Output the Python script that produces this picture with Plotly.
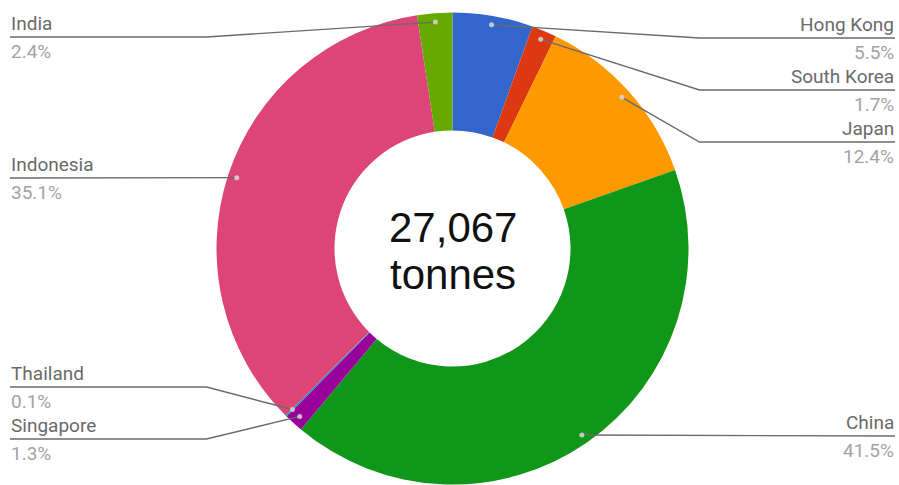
import math
import plotly.graph_objects as go

# Share of total (%), clockwise from 12 o'clock
countries = ["Hong Kong", "South Korea", "Japan", "China",
             "Singapore", "Thailand", "Indonesia", "India"]
shares = [5.5, 1.7, 12.4, 41.5, 1.3, 0.1, 35.1, 2.4]
colors = ["#3366cc", "#dc3912", "#ff9900", "#109618",
          "#990099", "#0099c6", "#dd4477", "#66aa00"]
total_label = "27,067"
unit_label = "tonnes"

# Label layout (pixel rows of the leader-line shelves and which side)
label_side = ["right", "right", "right", "right", "left", "left", "left", "left"]
label_row = [38, 90, 142, 436, 439, 387, 178, 37]

W, H = 899, 485
CX, CY, R = 452.5, 248.5, 236.0
HOLE = 0.5


def px(x):
    return x / W


def py(y):
    return 1 - y / H


def clamp(v):
    return min(1.0, max(0.0, v))


fig = go.Figure(go.Pie(
    labels=countries, values=shares, sort=False, direction="clockwise",
    rotation=0, hole=HOLE, textinfo="none", hoverinfo="label+percent",
    marker=dict(colors=colors, line=dict(width=0)),
    domain=dict(x=[clamp(px(CX - R)), clamp(px(CX + R))],
                y=[clamp(py(CY + R)), clamp(py(CY - R))]),
    showlegend=False,
))

shapes = []
annotations = []
tot = sum(shares)
cum = 0.0
for name, v, side, row in zip(countries, shares, label_side, label_row):
    mid = (cum + v / 2) / tot * 2 * math.pi
    cum += v
    rd = R * 0.962
    dx = CX + rd * math.sin(mid)
    dy = CY - rd * math.cos(mid)
    if side == "right":
        bend = CX + R + 11
        edge = 895
    else:
        bend = CX - R - 10
        edge = 10
    # leader line: dot -> bend -> shelf end
    if abs(dy - row) < 4:
        path = f"M {px(dx)} {py(dy)} L {px(edge)} {py(row)}"
    else:
        path = (f"M {px(dx)} {py(dy)} L {px(bend)} {py(row)} "
                f"L {px(edge)} {py(row)}")
    shapes.append(dict(type="path", xref="paper", yref="paper", path=path,
                       line=dict(color="#6a6a6a", width=1.4)))
    shapes.append(dict(type="circle", xref="paper", yref="paper",
                       x0=px(dx - 2.5), x1=px(dx + 2.5),
                       y0=py(dy + 2.5), y1=py(dy - 2.5),
                       fillcolor="rgba(215,215,215,0.85)", line=dict(width=0)))
    anchor = "right" if side == "right" else "left"
    annotations.append(dict(x=px(edge), y=py(row - 1), xref="paper", yref="paper",
                            text=name, showarrow=False, xanchor=anchor,
                            yanchor="bottom", borderpad=0,
                            font=dict(family="Roboto", size=19, color="#6a6a6a")))
    annotations.append(dict(x=px(edge), y=py(row + 2), xref="paper", yref="paper",
                            text=f"{v:.1f}%", showarrow=False, xanchor=anchor,
                            yanchor="top", borderpad=0,
                            font=dict(family="Roboto", size=19, color="#a3a3a3")))

annotations.append(dict(x=px(CX), y=py(227), xref="paper", yref="paper",
                        text=total_label, showarrow=False, xanchor="center",
                        yanchor="middle",
                        font=dict(family="Liberation Sans", size=42, color="#111")))
annotations.append(dict(x=px(CX), y=py(274), xref="paper", yref="paper",
                        text=unit_label, showarrow=False, xanchor="center",
                        yanchor="middle",
                        font=dict(family="Liberation Sans", size=42, color="#111")))

fig.update_layout(
    width=W, height=H, margin=dict(l=0, r=0, t=0, b=0),
    paper_bgcolor="white", plot_bgcolor="white",
    shapes=shapes, annotations=annotations,
)
fig.write_html("out.html")
